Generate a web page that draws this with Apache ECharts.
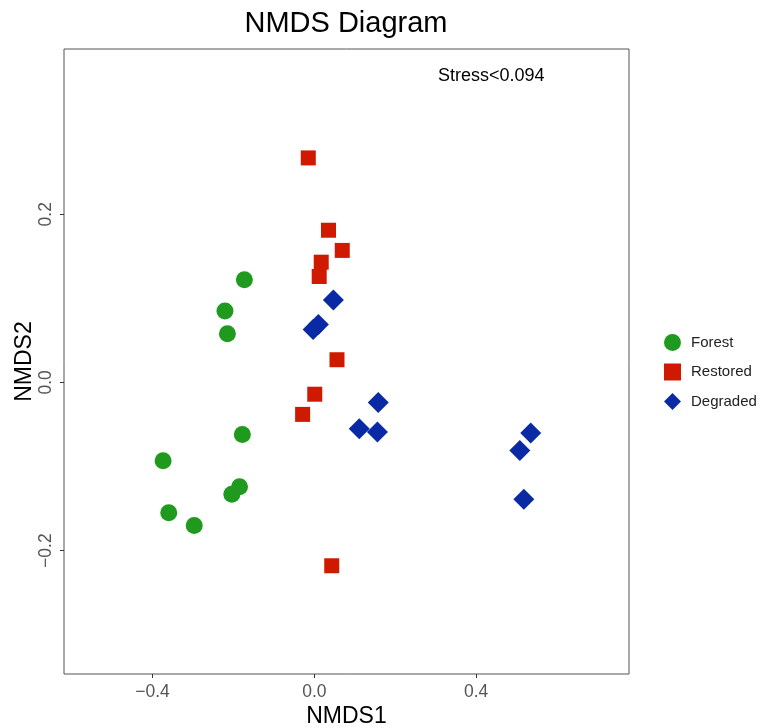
<!DOCTYPE html>
<html>
<head>
<meta charset="utf-8">
<title>NMDS Diagram</title>
<script src="https://cdn.jsdelivr.net/npm/echarts@6/dist/echarts.min.js"></script>
<style>
  html, body { margin: 0; padding: 0; background: #fff; }
  #chart { width: 761px; height: 728px; }
</style>
</head>
<body>
<div id="chart"></div>
<script>
// NMDS site scores (NMDS1, NMDS2) per land-use group
const forest = [
  [-0.173, 0.122], [-0.221, 0.085], [-0.215, 0.058], [-0.178, -0.062],
  [-0.374, -0.093], [-0.185, -0.124], [-0.204, -0.133], [-0.360, -0.155],
  [-0.297, -0.170]
];
const restored = [
  [-0.015, 0.267], [0.035, 0.181], [0.069, 0.157], [0.017, 0.143],
  [0.012, 0.126], [0.056, 0.027], [0.001, -0.014], [-0.029, -0.038],
  [0.043, -0.218]
];
const degraded = [
  [0.047, 0.098], [0.010, 0.069], [-0.003, 0.063], [0.158, -0.024],
  [0.111, -0.055], [0.156, -0.059], [0.535, -0.060], [0.508, -0.081],
  [0.518, -0.139]
];
const groupNames = ['Forest', 'Restored', 'Degraded'];
const xTicks = [-0.4, 0.0, 0.4];
const yTicks = [-0.2, 0.0, 0.2];
const stressLabel = 'Stress<0.094';

const FONT = '"Liberation Sans", Arial, Helvetica, sans-serif';
const fmt = v => (v < -1e-9 ? '\u2212' : '') + Math.abs(v).toFixed(1);

const chart = echarts.init(document.getElementById('chart'), null, { renderer: 'canvas' });

chart.setOption({
  backgroundColor: '#ffffff',
  animation: false,
  textStyle: { fontFamily: FONT },
  title: {
    text: 'NMDS Diagram',
    left: 346,
    textAlign: 'center',
    top: 9,
    padding: 0,
    textStyle: { fontFamily: FONT, fontSize: 29, fontWeight: 'normal', color: '#000' }
  },
  grid: {
    left: 64, top: 49, width: 565, height: 625,
    containLabel: false,
    outerBoundsMode: 'none',
    show: true, borderColor: '#555', borderWidth: 1, backgroundColor: '#fff'
  },
  legend: {
    orient: 'vertical',
    left: 664,
    top: 334,
    itemWidth: 17,
    itemHeight: 17,
    itemGap: 12.5,
    padding: 0,
    data: groupNames,
    textStyle: { fontFamily: FONT, fontSize: 15, color: '#222', padding: [0, 0, 0, 5] }
  },
  xAxis: {
    type: 'value',
    min: -0.619, max: 0.778,
    name: 'NMDS1',
    nameLocation: 'middle',
    nameGap: 31,
    nameMoveOverlap: false,
    nameTextStyle: { fontFamily: FONT, fontSize: 23, color: '#000' },
    axisLine: { show: false, onZero: false },
    splitLine: { show: false },
    axisTick: { show: true, length: 4, customValues: xTicks, lineStyle: { color: '#333', width: 1 } },
    axisLabel: {
      customValues: xTicks, formatter: fmt, margin: 9,
      fontFamily: FONT, fontSize: 17.5, color: '#555'
    }
  },
  yAxis: {
    type: 'value',
    min: -0.3467, max: 0.3965,
    name: 'NMDS2',
    nameLocation: 'middle',
    nameRotate: 90,
    nameGap: 28,
    nameMoveOverlap: false,
    nameTextStyle: { fontFamily: FONT, fontSize: 23, color: '#000' },
    axisLine: { show: false, onZero: false },
    splitLine: { show: false },
    axisTick: { show: true, length: 4, customValues: yTicks, lineStyle: { color: '#333', width: 1 } },
    axisLabel: {
      customValues: yTicks, formatter: fmt, margin: 9, rotate: 90,
      fontFamily: FONT, fontSize: 17.5, color: '#555'
    }
  },
  graphic: [{
    type: 'text',
    left: 438,
    top: 67,
    style: { text: stressLabel, font: '18px ' + FONT, fill: '#000' }
  }],
  series: [
    {
      name: groupNames[0], type: 'scatter', data: forest,
      symbol: 'circle', symbolSize: 17,
      itemStyle: { color: '#1f9a1f', opacity: 1 }
    },
    {
      name: groupNames[1], type: 'scatter', data: restored,
      symbol: 'rect', symbolSize: 15,
      itemStyle: { color: '#d01a00', opacity: 1 }
    },
    {
      name: groupNames[2], type: 'scatter', data: degraded,
      symbol: 'diamond', symbolSize: 21,
      itemStyle: { color: '#0a2aa5', opacity: 1 }
    }
  ]
});
</script>
</body>
</html>
